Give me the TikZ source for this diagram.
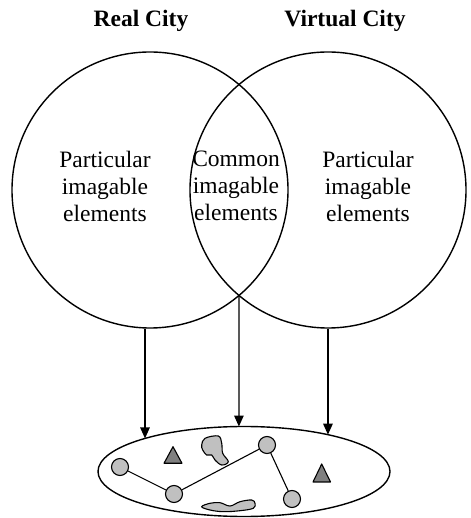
\documentclass[tikz,border=0pt]{standalone}
\usepackage{fontspec}
\setmainfont{Liberation Serif}
\usetikzlibrary{arrows.meta,calc}
\definecolor{blobgray}{HTML}{C0C0C0}
\definecolor{markgray}{HTML}{808080}
\begin{document}
\begin{tikzpicture}[x=1pt,y=1pt,
  city/.style={circle,draw,line width=1.4pt,minimum size=276pt,inner sep=0pt},
  citytitle/.style={font=\fontsize{23.5}{27}\selectfont\bfseries,anchor=base},
  citytext/.style={font=\fontsize{23.5}{27}\selectfont,align=center},
  arr/.style={line width=1.3pt,-{Triangle[length=11pt,width=9.5pt]}},
  spot/.style={circle,draw,line width=1.1pt,fill=blobgray,minimum size=17pt,inner sep=0pt},
  link/.style={line width=1.1pt},
  trimark/.style={draw,line width=1.1pt,fill=markgray,line join=round},
  blob/.style={draw,line width=1.1pt,fill=blobgray}]
\useasboundingbox (0,0) rectangle (470,518);

% titles
\node[citytitle] (realt) at (141,491) {Real City};
\node[citytitle] (virtt) at (345,491) {Virtual City};

% the two overlapping cities
\node[city] (L) at (150,328) {};
\node[city] (R) at (328,328) {};
\coordinate (X) at (239,222.5);

\node[citytext] (lt) at (105,332) {Particular\\imagable\\elements};
\node[citytext] (ct) at (236,332) {Common\\imagable\\elements};
\node[citytext] (rt) at (368,332) {Particular\\imagable\\elements};

% image of the city
\coordinate (E) at (244,46.5);
\draw[line width=1.4pt] (E) ellipse [x radius=146, y radius=45];
\coordinate (eL) at ($(E)+(132.7:146 and 45)$);
\coordinate (eM) at ($(E)+(92:146 and 45)$);
\coordinate (eR) at ($(E)+(54.9:146 and 45)$);

\draw[arr] (L.south -| eL) -- (eL);
\draw[arr] (X) -- (eM);
\draw[arr] (R.south -| eR) -- (eR);

% blobs
\draw[blob] plot[smooth cycle,tension=0.6] coordinates
  {(205,79.7) (218.3,82) (221.7,74.7) (222.7,64.7) (228.3,56.3) (221.7,53)
   (215,58) (211.7,63) (206.7,63) (202.7,68) (201.7,73)};
\draw[blob] plot[smooth cycle,tension=0.6] coordinates
  {(201.7,11.3) (210,14.7) (220,15.3) (230,12) (240,16.3) (251.7,18)
   (255,14.7) (253.3,9.7) (240,7.3) (223.3,6.3) (210,8)};

% triangles
\draw[trimark] (173,71.3) -- (182,54.7) -- (164,54.7) -- cycle;
\draw[trimark] (321.7,54) -- (330.5,36) -- (313,36) -- cycle;

% network of spots
\node[spot] (s1) at (120,51) {};
\node[spot] (s2) at (174,24) {};
\node[spot] (s3) at (267,73) {};
\node[spot] (s4) at (292,19) {};
\draw[link] (s1) -- (s2);
\draw[link] (s2) -- (s3);
\draw[link] (s3) -- (s4);
\end{tikzpicture}
\end{document}
